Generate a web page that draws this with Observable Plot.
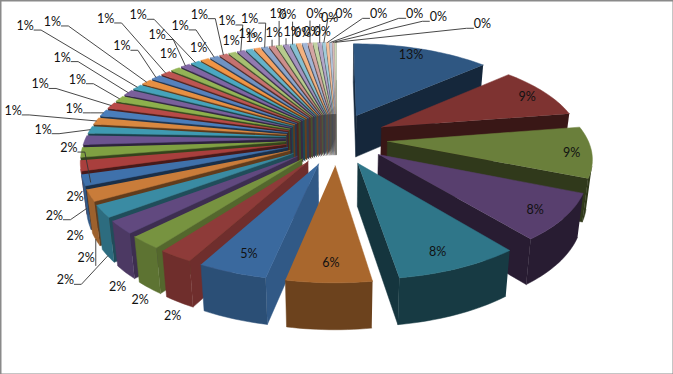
<!DOCTYPE html>
<html><head><meta charset="utf-8">
<style>html,body{margin:0;padding:0;background:#fff}svg{display:block}</style>
<script src="https://cdn.jsdelivr.net/npm/d3@7"></script>
<script src="https://cdn.jsdelivr.net/npm/@observablehq/plot@0.6"></script>
</head><body><div id="chart"></div>
<script>
// Slice shares, clockwise from 12 o'clock (percent)
const bigShares = [13.2, 9.2, 8.9, 8.0, 8.3, 5.6, 4.6];
const twoPctShares = [2.3, 2.2, 2.2, 2.1, 2.0, 1.9, 1.8, 1.7, 1.6];
const onePctShares = [1.3, 1.25, 1.2, 1.15, 1.1, 1.05, 1.0, 1.0, .95, .95, .9, .9, .85, .8, .8, .75, .7, .7, .65, .6, .6, .55, .55, .52];
const zeroPctShares = [.49, .46, .43, .4, .37, .34, .3, .26, .22, .18, .15];
const shares = [...bigShares, ...twoPctShares, ...onePctShares, ...zeroPctShares];
const sliceColors = ["#2f5782","#7e3331","#6a7f3b","#583f6e","#2f7689","#a9672d","#3a699e","#8e3b39","#779340","#61497f","#3a8ba3","#c97c3a",
"#3f71ab","#a93f3d","#7fa042","#6c5490","#3f9ab2","#d98840","#4a7ebb","#b84a47","#8db04c","#7a5f9b","#45a3bb","#e68f42",
"#5581bd","#bd5552","#93b456","#8065a3","#4aa8c2","#f09545","#6f93c3","#c6716f","#a6c070","#937ab0","#64b3cb","#f4a263",
"#8aa6cd","#ce8e8c","#b6cb8c","#a593be","#85bfd2","#f3b280","#a1b5d5","#d4a5a3","#c3d3a2","#b4a6c8","#a0cbda","#f4c19c","#b4c5dd","#d8b9b7","#cdd9b6"];
// Label placement: pixel nudge from each slice's rim midpoint
const labelNudge = [[-11,6],[-17,5],[-20,1],[-29,-8],[-22,-16],[2,-20],[17,-18],
[-3,60],[-5,58],[-3,60],[-37,69],[-4,63],[-8,56],[-26,50],[-6,45],[-16,8],
[-47,0],[-83,-10],[-29,-4],[-71,-21],[-42,-19],[-66,-35],[-112,-61],[-94,-60],[-34,-31],[-60,-54],[-7,-15],[-28,-30],[-57,-47],[-6,-11],[-34,-31],[-24,-40],[-1,-12],[-14,-30],[-2,-15],[-3,-10],[-15,-28],[2,-13],[-1,-31],[6,-13],
[-5,-29],[4,-11],[7,-11],[5,-29],[7,-11],[10,-25],[20,-28],[51,-28],[84,-28],[105,-25],[147,-18]];
// Rim labels that sit just above their slice on a short tick
const shortTicks = [37, 39];

// Pie geometry
const W = 673, H = 374;
const cx = 336, cy = 138, A = 200, B = 89.5, k = 0.155, D = 42, explodeX = 0.255, explodeY = 0.29;
const rad = d => d * Math.PI / 180;
function proj(u, v, bottom) {
  const w = 1 - k * v;
  let x = cx + A * u / w, y = cy + B * v / w;
  if (bottom) { x = cx + (x - cx) * 0.977; y += D / Math.sqrt(w); }
  return [x, y];
}
const total = d3.sum(shares);
let cum = 0;
const slices = shares.map((s, i) => {
  const a0 = cum / total * 360; cum += s; const a1 = cum / total * 360;
  const mid = (a0 + a1) / 2;
  const ox = Math.sin(rad(mid)) * explodeX, oy = -Math.cos(rad(mid)) * explodeY;
  return {i, s, a0, a1, mid, ox, oy, color: sliceColors[i], label: Math.round(s / total * 100) + "%"};
});
const rimWorld = (sl, a) => [Math.sin(rad(a)) + sl.ox, -Math.cos(rad(a)) + sl.oy];
const shoelace = pts => d3.sum(pts, (p, i) => { const q = pts[(i + 1) % pts.length]; return p[0] * q[1] - q[0] * p[1]; });
const ramp = (t, a, b, f0, f1) => f0 + (f1 - f0) * Math.min(1, Math.max(0, (t - a) / (b - a)));
const shade = (c, f) => { const r = d3.rgb(c); return d3.rgb(r.r * f, r.g * f, r.b * f).formatHex(); };

const faces = [];
let fid = 0;
const addFace = (pts, c) => { const id = fid++; pts.forEach(p => faces.push({id, x: p[0], y: p[1], c})); };
const isFacing = (p, q) => shoelace([proj(p[0], p[1]), proj(q[0], q[1]), proj(q[0], q[1], true), proj(p[0], p[1], true)]) < 0;
function wall(p, q, c) {
  if (isFacing(p, q)) addFace([proj(p[0], p[1]), proj(q[0], q[1]), proj(q[0], q[1], true), proj(p[0], p[1], true)], c);
}
const order = d3.sort(slices, sl => -Math.cos(rad(sl.mid)));
for (const sl of order) {
  const n = Math.max(2, Math.ceil((sl.a1 - sl.a0) / 1.5));
  const rim = d3.range(n + 1).map(j => rimWorld(sl, sl.a0 + (sl.a1 - sl.a0) * j / n));
  const tip = [sl.ox, sl.oy];
  const radialF = sl.mid < 180 ? 0.45 : ramp(sl.mid, 205, 250, 0.85, 0.42);
  const rimF = ramp(sl.mid, 150, 205, 0.45, 0.78);
  wall(tip, rim[0], shade(sl.color, radialF));
  wall(rim[n], tip, shade(sl.color, radialF));
  // the visible run of the outer wall, as one polygon
  const run = [];
  for (let j = 0; j < n; j++) if (isFacing(rim[j], rim[j + 1])) {
    if (!run.length) run.push(rim[j]);
    run.push(rim[j + 1]);
  }
  if (run.length) addFace([...run.map(p => proj(p[0], p[1])), ...run.slice().reverse().map(p => proj(p[0], p[1], true))], shade(sl.color, rimF));
  addFace([tip, ...rim].map(p => proj(p[0], p[1])), sl.color);
}

// Labels and leader lines
const labels = [], leaders = [];
slices.forEach(sl => {
  const w = rimWorld(sl, sl.mid);
  const top = proj(w[0], w[1]);
  const lx = top[0] + labelNudge[sl.i][0], ly = top[1] + labelNudge[sl.i][1];
  labels.push({x: lx, y: ly, text: sl.label});
  const front = w[1] > 0;
  const end = front ? proj(w[0], w[1], true) : top;
  const dx = end[0] - lx, dy = end[1] - ly;
  if ((Math.hypot(dx, dy) > 20 && sl.i >= 7) || shortTicks.includes(sl.i)) {
    const pts = [];
    if (Math.abs(dx) < 12) pts.push([end[0], ly + 7]);
    else { const s = Math.sign(dx); pts.push([lx + s * 9, ly + 4], [lx + s * 16, ly + 4]); }
    pts.push(end);
    pts.forEach(p => leaders.push({id: sl.i, x: p[0], y: p[1]}));
  }
});

const chart = Plot.plot({
  width: W, height: H, margin: 0,
  x: {axis: null, domain: [0, W], range: [0, W]},
  y: {axis: null, domain: [0, H], range: [0, H]},
  color: {type: "identity"},
  style: {background: "#fff", fontFamily: "Lato, sans-serif"},
  marks: [
    Plot.line(faces, {x: "x", y: "y", z: "id", fill: "c", stroke: "c", strokeWidth: 0.5}),
    Plot.line(leaders, {x: "x", y: "y", z: "id", stroke: "#333", strokeWidth: 0.9}),
    Plot.text(labels, {x: "x", y: "y", text: "text", fontSize: 12.5, fill: "#111"}),
    Plot.frame({stroke: "#8a8a8a", strokeWidth: 2})
  ]
});
document.getElementById("chart").append(chart);
</script></body></html>
